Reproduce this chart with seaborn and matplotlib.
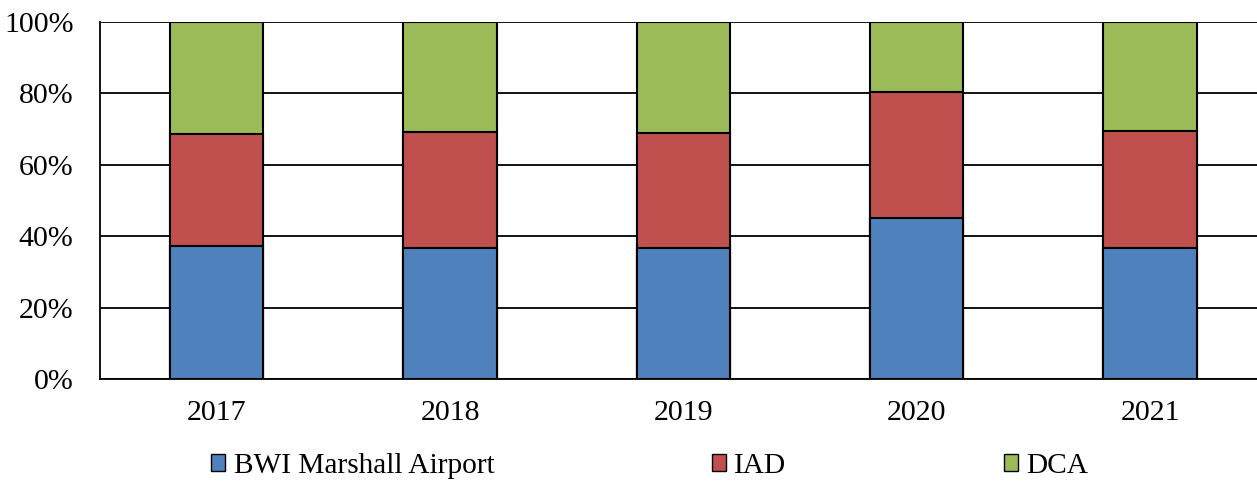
"""Stacked 100% bars: passenger share by Washington-area airport, 2017-2021."""

import matplotlib

matplotlib.use("Agg")

import matplotlib.pyplot as plt
import numpy as np
import pandas as pd
import seaborn as sns
from matplotlib.patches import Patch
from matplotlib.ticker import FuncFormatter

years = ["2017", "2018", "2019", "2020", "2021"]
airports = ["BWI Marshall Airport", "IAD", "DCA"]
bwi_share = [37.3, 36.8, 36.7, 45.1, 36.6]
iad_share = [31.3, 32.3, 32.3, 35.2, 32.9]
dca_share = [31.4, 30.9, 31.0, 19.7, 30.5]
colors = ["#4F81BD", "#C0504D", "#9BBB59"]

sns.set_theme(style="white")
plt.rcParams["font.family"] = ["Liberation Serif", "DejaVu Serif"]
plt.rcParams["text.color"] = "black"

shares = np.array([bwi_share, iad_share, dca_share]) / 100.0
tops = np.cumsum(shares, axis=0)

fig = plt.figure(figsize=(12.57, 4.82), dpi=100)
ax = fig.add_axes([100 / 1257, 1 - 379 / 482, 1 - 100 / 1257, (379 - 22) / 482])

# Overdraw cumulative totals from tallest to shortest to get the stack.
for name, top, color in reversed(list(zip(airports, tops, colors))):
    df = pd.DataFrame({"year": years, "value": top})
    sns.barplot(
        data=df, x="year", y="value", color=color, width=0.4,
        edgecolor="black", linewidth=1.5, saturation=1, ax=ax, zorder=3,
    )

ax.set_ylim(0, 1)
ax.set_xlim(-0.5, (1257 - 216) / 233.5)
ax.set_yticks(np.linspace(0, 1, 6))
ax.yaxis.set_major_formatter(FuncFormatter(lambda v, _: f"{v * 100:.0f}%"))
ax.yaxis.grid(True, color="black", linewidth=1.3, zorder=0)
ax.set_axisbelow(True)
ax.set_xlabel("")
ax.set_ylabel("")
ax.tick_params(axis="both", length=0, labelsize=21.5, colors="black")
ax.tick_params(axis="x", pad=15)
ax.tick_params(axis="y", pad=19)
for side in ["top", "right"]:
    ax.spines[side].set_visible(False)
for side in ["left", "bottom"]:
    ax.spines[side].set_color("black")
    ax.spines[side].set_linewidth(1.3)

handles = [Patch(facecolor=c, edgecolor="black", linewidth=1.0) for c in colors]
fig.legend(
    handles, airports, ncol=3, loc="upper left",
    bbox_to_anchor=(211 / 1257, 1 - 453 / 482), frameon=False, fontsize=21.2,
    handlelength=0.47, handleheight=0.5, handletextpad=0.3,
    columnspacing=7.38, borderpad=0, borderaxespad=0,
)

fig.savefig("out.png", dpi=100)
